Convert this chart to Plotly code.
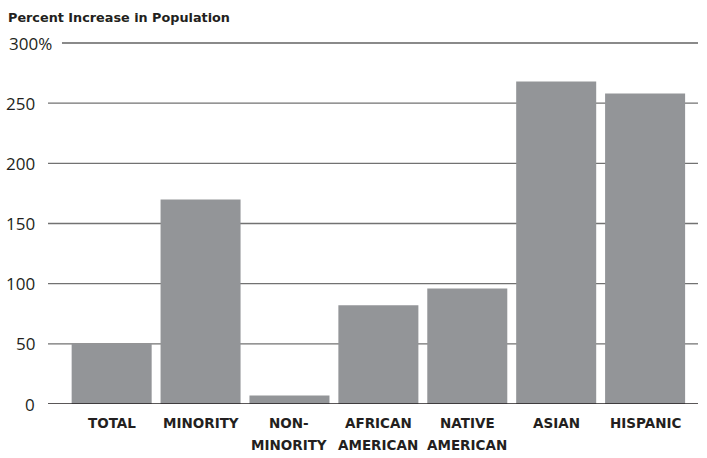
import plotly.graph_objects as go

categories = ["TOTAL", "MINORITY", "NON-<br>MINORITY", "AFRICAN<br>AMERICAN",
              "NATIVE<br>AMERICAN", "ASIAN", "HISPANIC"]
values = [50, 170, 7, 82, 96, 268, 258]
y_ticks = [0, 50, 100, 150, 200, 250, 300]
y_tick_labels = ["0", "50", "100", "150", "200", "250", "300%"]
title_text = "Percent Increase in Population"

BAR = "#939598"
INK = "#231f20"
GRID = "#727272"

x_idx = list(range(len(categories)))

fig = go.Figure(go.Bar(
    x=x_idx, y=values, marker=dict(color=BAR, line=dict(width=0)),
    hoverinfo="skip",
))

shapes = []
annotations = []
for v, lab in zip(y_ticks, y_tick_labels):
    if v == 0:
        continue
    x0 = 0.0215 if v == 300 else 0
    shapes.append(dict(type="line", xref="paper", yref="y", x0=x0, x1=1, y0=v, y1=v,
                       line=dict(color=GRID if v != 300 else "#8a8a8a", width=1.3 if v != 300 else 2),
                       layer="below"))
for v, lab in zip(y_ticks, y_tick_labels):
    annotations.append(dict(xref="paper", yref="y", x=0, y=v, text=lab, showarrow=False,
                            xanchor="right", yanchor="middle",
                            xshift=6 if lab.endswith("%") else -11,
                            font=dict(family="Open Sans", size=17, color=INK)))
# zero axis line
shapes.append(dict(type="line", xref="paper", yref="y", x0=0, x1=1, y0=0, y1=0,
                   line=dict(color=INK, width=1.6), layer="above"))

for i, cat in enumerate(categories):
    for j, line in enumerate(cat.split("<br>")):
        annotations.append(dict(xref="x", yref="paper", x=i, y=0, text="<b>" + line + "</b>",
                                showarrow=False, xanchor="center", yanchor="middle",
                                yshift=-19 - 21.5 * j,
                                font=dict(family="DejaVu Sans", size=13.5, color=INK)))

annotations.append(dict(xref="paper", yref="paper", x=-42 / 650, y=1, yshift=20,
                        text="<b>" + title_text + "</b>", showarrow=False,
                        xanchor="left", yanchor="middle",
                        font=dict(family="DejaVu Sans", size=12.8, color=INK)))

fig.update_layout(
    width=707, height=458,
    margin=dict(l=48, r=9, t=37, b=54),
    paper_bgcolor="white", plot_bgcolor="white",
    bargap=0.1,
    showlegend=False,
    xaxis=dict(range=[-0.716, 6.595], showticklabels=False, showgrid=False,
               zeroline=False, showline=False, fixedrange=True),
    yaxis=dict(range=[0, 305], showticklabels=False, showgrid=False,
               zeroline=False, showline=False, fixedrange=True),
    shapes=shapes,
    annotations=annotations,
)

fig.write_html("out.html")
